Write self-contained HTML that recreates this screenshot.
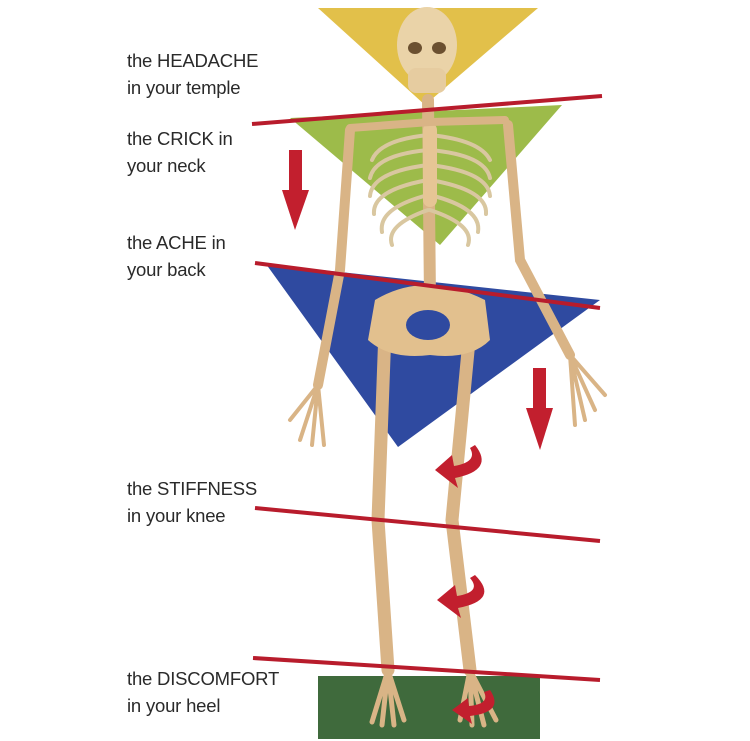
<!DOCTYPE html>
<html><head><meta charset="utf-8"><style>
html,body{margin:0;padding:0;background:#fff;}
body{width:750px;height:741px;overflow:hidden;position:relative;font-family:"Liberation Sans",sans-serif;}
.l{position:absolute;left:127px;font-size:18.5px;line-height:27px;color:#2a2a2a;letter-spacing:-0.2px;}
svg{position:absolute;left:0;top:0;}
</style></head><body>
<svg width="750" height="741" viewBox="0 0 750 741">
<polygon points="318,8 538,8 425,105" fill="#e2c04a"/>
<polygon points="290,118 562,105 440,245" fill="#9dbb4a"/>
<polygon points="266,264 600,300 398,447" fill="#2f4aa0"/>
<rect x="318" y="676" width="222" height="63" fill="#3f6a3c"/>
<g stroke="#d9b486" stroke-linecap="round" fill="none">
<line x1="428" y1="100" x2="430" y2="300" stroke-width="12"/>
<g stroke-width="4" stroke="#d9c7a0">
<path d="M428 135 Q380 140 372 160"/><path d="M428 150 Q375 155 370 178"/>
<path d="M428 165 Q372 172 370 196"/><path d="M428 180 Q372 190 374 214"/>
<path d="M428 195 Q378 208 382 232"/><path d="M428 210 Q385 225 392 245"/>
<path d="M430 135 Q480 140 490 160"/><path d="M430 150 Q485 155 490 178"/>
<path d="M430 165 Q488 172 490 196"/><path d="M430 180 Q488 190 486 214"/>
<path d="M430 195 Q482 208 478 232"/><path d="M430 210 Q475 225 468 245"/>
</g>
<line x1="430" y1="130" x2="430" y2="200" stroke-width="14" stroke="#e6c595"/>
<path d="M430 122 L350 128" stroke-width="8"/><path d="M430 122 L505 120" stroke-width="8"/>
<path d="M350 130 L340 270 L318 385" stroke-width="10"/>
<path d="M508 125 L520 260 L570 355" stroke-width="10"/>
<path d="M318 385 L300 440 M318 385 L312 445 M318 385 L324 445 M318 385 L290 420" stroke-width="4"/>
<path d="M570 355 L585 420 M570 355 L595 410 M570 355 L605 395 M570 355 L575 425" stroke-width="4"/>
<path d="M385 330 L378 520 L388 670" stroke-width="13"/>
<path d="M470 330 L452 520 L470 670" stroke-width="13"/>
<path d="M388 670 L372 722 M388 670 L382 725 M388 670 L394 725 M388 670 L404 720" stroke-width="5"/>
<path d="M470 670 L460 720 M470 670 L472 725 M470 670 L484 725 M470 670 L496 720" stroke-width="5"/>
</g>
<path d="M375 300 Q425 270 485 300 L490 340 Q470 360 430 355 Q390 360 368 340 Z" fill="#e2c08e"/>
<ellipse cx="428" cy="325" rx="22" ry="15" fill="#2f4aa0"/>
<ellipse cx="427" cy="45" rx="30" ry="38" fill="#ead3a8"/>
<rect x="408" y="68" width="38" height="25" rx="8" fill="#e6cca0"/>
<ellipse cx="415" cy="48" rx="7" ry="6" fill="#6b5030"/><ellipse cx="439" cy="48" rx="7" ry="6" fill="#6b5030"/>
<g stroke="#b81c2c" stroke-width="4">
<line x1="252" y1="124" x2="602" y2="96"/>
<line x1="255" y1="263" x2="600" y2="308"/>
<line x1="255" y1="508" x2="600" y2="541"/>
<line x1="253" y1="658" x2="600" y2="680"/>
</g>
<g fill="#c21f2e">
<rect x="289" y="150" width="13" height="45"/><polygon points="282,190 309,190 295,230"/>
<rect x="533" y="368" width="13" height="45"/><polygon points="526,408 553,408 540,450"/>
<path d="M475 445 Q495 470 455 478 L458 488 L435 470 L452 455 L454 466 Q478 462 470 448 Z"/>
<path d="M475 575 Q500 600 458 608 L461 618 L437 600 L455 585 L457 596 Q482 592 470 578 Z"/>
<path d="M490 690 Q505 712 470 716 L472 724 L452 710 L468 698 L469 706 Q490 704 484 692 Z"/>
</g>
</svg>
<div class="l" style="top:47px">the HEADACHE<br>in your temple</div>
<div class="l" style="top:125px">the CRICK in<br>your neck</div>
<div class="l" style="top:229px">the ACHE in<br>your back</div>
<div class="l" style="top:475px">the STIFFNESS<br>in your knee</div>
<div class="l" style="top:665px">the DISCOMFORT<br>in your heel</div>
</body></html>
